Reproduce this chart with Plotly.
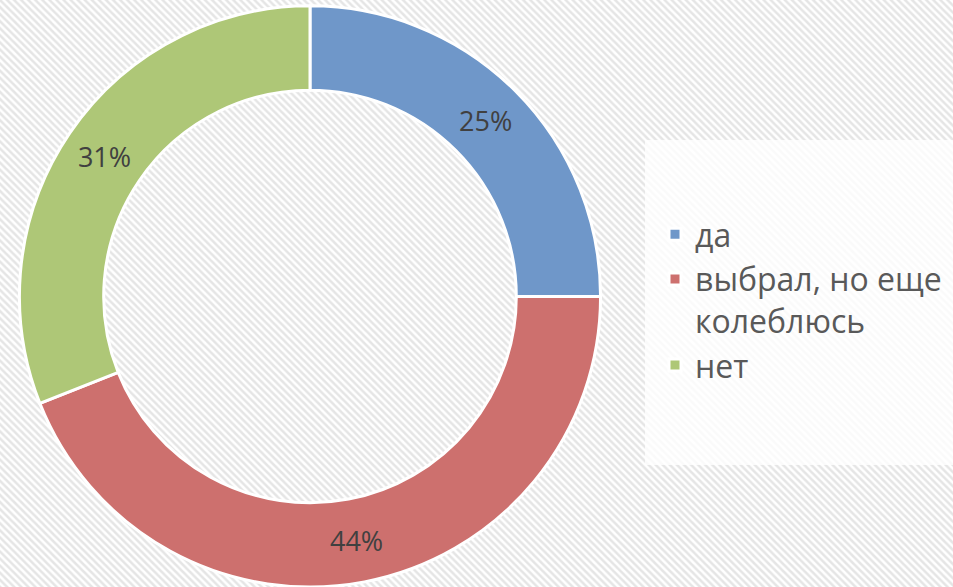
import plotly.graph_objects as go

labels = ["да", "выбрал, но еще<br>колеблюсь", "нет"]
values = [25, 44, 31]
colors = ["#6F97C9", "#CD706E", "#AEC777"]

fig = go.Figure()

# decorative hatched background
fig.add_trace(go.Scatter(
    x=[0, 1, 1, 0, 0], y=[0, 0, 1, 1, 0], mode="lines", fill="toself",
    line=dict(width=0), fillcolor="rgba(0,0,0,0)",
    fillpattern=dict(shape="\\", fgcolor="#CCCCCC", bgcolor="#FFFFFF", size=5, solidity=0.5),
    hoverinfo="skip", showlegend=False,
))

fig.add_trace(go.Pie(
    labels=labels, values=values, hole=0.71, sort=False, direction="clockwise", rotation=0,
    marker=dict(colors=colors, line=dict(color="white", width=3)),
    textinfo="percent", textposition="inside", insidetextorientation="horizontal",
    textfont=dict(size=27, color="#404040", family="Open Sans"),
    domain=dict(x=[18/953, 602/953], y=[0, 0.99]),
    hoverinfo="label+percent",
))

fig.update_layout(
    width=953, height=587, margin=dict(l=0, r=0, t=0, b=0),
    paper_bgcolor="white", plot_bgcolor="rgba(0,0,0,0)",
    xaxis=dict(visible=False, range=[0, 1], domain=[0, 1], fixedrange=True),
    yaxis=dict(visible=False, range=[0, 1], domain=[0, 1], fixedrange=True),
    showlegend=True,
    legend=dict(x=655/953, y=1-207/587, xanchor="left", yanchor="top", valign="top",
                bgcolor="rgba(0,0,0,0)", font=dict(size=32, color="#595959", family="Open Sans")),
    shapes=[dict(type="rect", xref="paper", yref="paper", x0=645/953, x1=1, y0=1-465/587, y1=1-140/587,
                 fillcolor="rgba(255,255,255,0.8)", line=dict(width=0), layer="above")],
)

fig.write_html("out.html", config={"displayModeBar": False},
               post_script="document.body.style.margin='0';document.body.style.overflow='hidden';")
